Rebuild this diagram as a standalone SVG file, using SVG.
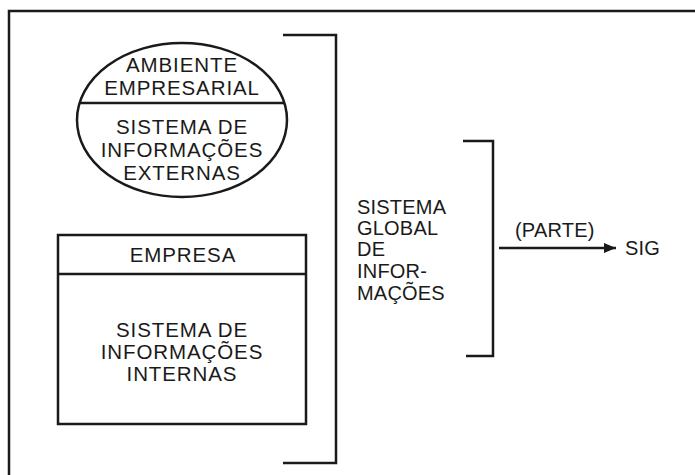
<svg xmlns="http://www.w3.org/2000/svg" width="695" height="475" viewBox="0 0 695 475">
<style>
.ln{fill:none;stroke:#1a1a1a;stroke-width:2.5}
text{font-family:"Liberation Sans",Arial,sans-serif;font-size:20.5px;fill:#1a1a1a;letter-spacing:0.9px}
.c{text-anchor:middle}
.m{font-size:20px;letter-spacing:0.2px}
</style>
<defs>
<marker id="ah" markerWidth="12" markerHeight="10" refX="12" refY="5" orient="auto" markerUnits="userSpaceOnUse">
<path d="M0,0 L12,5 L0,10 Z" fill="#1a1a1a"/>
</marker>
</defs>
<rect width="695" height="475" fill="#fff"/>
<path class="ln" d="M695 11 H9 V475"/>
<g id="ambiente">
<ellipse class="ln" cx="182" cy="120" rx="105" ry="77"/>
<line class="ln" x1="79" y1="103" x2="285" y2="103"/>
<text class="c" x="182" y="72">AMBIENTE</text>
<text class="c" x="182" y="95">EMPRESARIAL</text>
<text class="c" x="182" y="134">SISTEMA DE</text>
<text class="c" x="182" y="157">INFORMAÇÕES</text>
<text class="c" x="182" y="180">EXTERNAS</text>
</g>
<g id="empresa">
<rect class="ln" x="58" y="235" width="248" height="189"/>
<line class="ln" x1="58" y1="274" x2="306" y2="274"/>
<text class="c" x="183" y="262">EMPRESA</text>
<text class="c" x="182" y="337">SISTEMA DE</text>
<text class="c" x="182" y="359">INFORMAÇÕES</text>
<text class="c" x="182" y="381">INTERNAS</text>
</g>
<g id="global">
<text class="m" x="357" y="214">SISTEMA</text>
<text class="m" x="357" y="235">GLOBAL</text>
<text class="m" x="357" y="256">DE</text>
<text class="m" x="357" y="278">INFOR-</text>
<text class="m" x="357" y="300">MAÇÕES</text>
</g>
<g id="sig">
<text class="m" x="625" y="255">SIG</text>
</g>
<g id="connectors">
<path class="ln" d="M283 35 H336 V463 H283"/>
<path class="ln" d="M463 141 H493 V356 H466"/>
<line class="ln" x1="499" y1="248" x2="616" y2="248" marker-end="url(#ah)"/>
<text class="m" x="515" y="237">(PARTE)</text>
</g>
</svg>
